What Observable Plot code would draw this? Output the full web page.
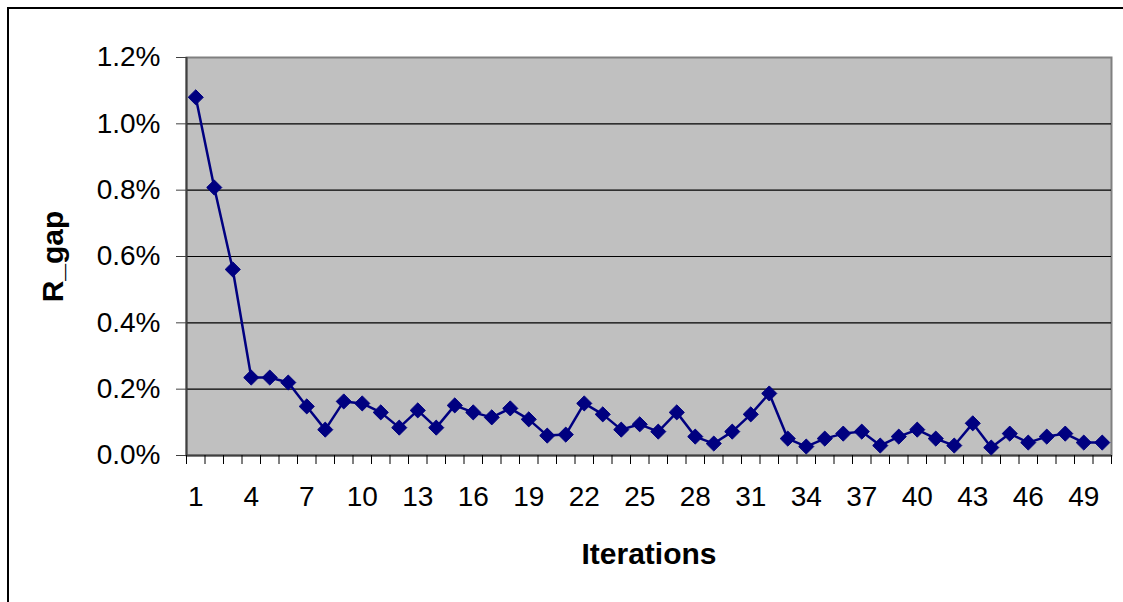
<!DOCTYPE html>
<html>
<head>
<meta charset="utf-8">
<script src="https://cdn.jsdelivr.net/npm/d3@7"></script>
<script src="https://cdn.jsdelivr.net/npm/@observablehq/plot@0.6"></script>
<style>
  html, body { margin: 0; padding: 0; background: #fff; }
  #wrap { position: relative; width: 1123px; height: 602px; overflow: hidden; }
  #bt { position: absolute; left: 7px; top: 7px; width: 1116px; height: 2px; background: #000; }
  #bl { position: absolute; left: 7px; top: 7px; width: 2px; height: 595px; background: #000; }
  #chart { position: absolute; left: 0; top: 0; }
</style>
</head>
<body>
<div id="wrap">
  <div id="chart"></div>
  <div id="bt"></div>
  <div id="bl"></div>
</div>
<script>
const iterations = d3.range(1, 51);
const rgap = [
  1.08, 0.808, 0.561, 0.235, 0.235, 0.22, 0.148, 0.078, 0.163, 0.157,
  0.13, 0.084, 0.136, 0.084, 0.151, 0.13, 0.115, 0.142, 0.109, 0.06,
  0.063, 0.157, 0.124, 0.078, 0.094, 0.072, 0.13, 0.057, 0.036, 0.072,
  0.124, 0.187, 0.051, 0.027, 0.051, 0.066, 0.072, 0.03, 0.057, 0.078,
  0.051, 0.03, 0.097, 0.024, 0.066, 0.039, 0.057, 0.066, 0.039, 0.039
].map(v => v / 100);
const yTicks = [0, 0.002, 0.004, 0.006, 0.008, 0.010, 0.012];
const xLabelTicks = iterations.filter((d, i) => i % 3 === 0);
const xBoundaries = [...iterations.map(d => d - 0.5), iterations[iterations.length - 1] + 0.5];

const data = iterations.map((it, i) => ({it, v: rgap[i]}));

const chart = Plot.plot({
  width: 1123,
  height: 602,
  marginLeft: 186,
  marginRight: 12,
  marginTop: 57,
  marginBottom: 147,
  style: {fontFamily: "'Liberation Sans', Arial, sans-serif", background: "transparent", color: "#000"},
  x: {domain: [xBoundaries[0], xBoundaries[xBoundaries.length - 1]]},
  y: {domain: [0, 0.012]},
  marks: [
    Plot.frame({fill: "#c0c0c0", stroke: "#808080", strokeWidth: 2}),
    Plot.ruleY(yTicks.slice(1, -1), {stroke: "#000", strokeWidth: 1.2}),
    Plot.ruleX([xBoundaries[0]], {stroke: "#404040", strokeWidth: 2}),
    Plot.ruleY([0], {stroke: "#404040", strokeWidth: 2}),
    Plot.axisY({
      ticks: yTicks, tickSize: 10, tickPadding: 16,
      tickFormat: d => (d * 100).toFixed(1) + "%",
      fontSize: 28, stroke: "#404040",
      label: "R_gap", labelAnchor: "center", labelOffset: 145,
      labelArrow: "none"
    }),
    Plot.axisX({
      ticks: xBoundaries, tickSize: 9, tickFormat: () => "", stroke: "#000", label: null
    }),
    Plot.axisX({
      ticks: xLabelTicks, tickSize: 0, tickPadding: 31,
      tickFormat: d => String(d), fontSize: 28,
      label: "Iterations", labelAnchor: "center", labelOffset: 108,
      labelArrow: "none"
    }),
    Plot.line(data, {x: "it", y: "v", stroke: "#000080", strokeWidth: 2.5}),
    Plot.dot(data, {x: "it", y: "v", symbol: "diamond2", r: 6.8, fill: "#000080", stroke: "#000080", strokeWidth: 1})
  ]
});

chart.querySelectorAll("g[aria-label='y-axis label'] text, g[aria-label='x-axis label'] text").forEach(t => {
  t.setAttribute("font-weight", "bold");
  t.setAttribute("font-size", "30");
});
document.getElementById("chart").appendChild(chart);
</script>
</body>
</html>
